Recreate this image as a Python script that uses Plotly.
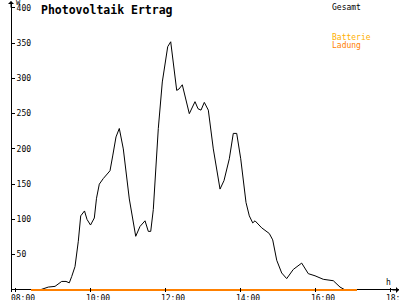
import plotly.graph_objects as go

# Gesamt (total) power in W, hours as decimal
gesamt_hours = [8.667, 8.888, 9.067, 9.245, 9.36, 9.448, 9.512, 9.6, 9.688, 9.752,
                9.853, 9.92, 10.013, 10.115, 10.173, 10.248, 10.355, 10.533, 10.605, 10.693,
                10.781, 10.888, 11.048, 11.219, 11.333, 11.467, 11.555, 11.619, 11.688, 11.733,
                11.821, 11.928, 12.072, 12.152, 12.312, 12.373, 12.461, 12.648, 12.8, 12.88,
                12.96, 13.048, 13.155, 13.288, 13.467, 13.573, 13.715, 13.821, 13.912, 14.019,
                14.16, 14.248, 14.339, 14.4, 14.579, 14.781, 14.872, 14.979, 15.112, 15.245,
                15.421, 15.645, 15.821, 16.0, 16.221, 16.488, 16.667, 16.8]
gesamt_values = [0, 4, 5, 12, 12, 10, 19, 33, 69, 105,
                 112, 100, 92, 102, 130, 150, 158, 169, 190, 217,
                 229, 200, 129, 76, 90, 98, 83, 83, 114, 157,
                 229, 295, 345, 352, 283, 285, 291, 250, 267, 257,
                 255, 266, 255, 200, 143, 155, 186, 222, 222, 186,
                 124, 105, 95, 98, 88, 80, 71, 42, 24, 16,
                 29, 38, 23, 20, 15, 13, 4, 0]

# Ladung (charging) series
ladung_hours = [8.427, 17.12]
ladung_values = [0, 0]

x_tick_vals = [8, 10, 12, 14, 16, 18]
x_tick_text = ["08:00", "10:00", "12:00", "14:00", "16:00", "18:00"]
y_tick_vals = [50, 100, 150, 200, 250, 300, 350, 400]
y_tick_text = ["50", "100", "150", "200", "250", "300", "350", "400"]

FONT = "DejaVu Sans Mono"

fig = go.Figure()
fig.add_trace(go.Scatter(x=gesamt_hours, y=gesamt_values, mode="lines",
                         line=dict(color="black", width=1), name="Gesamt",
                         showlegend=False))
fig.add_trace(go.Scatter(x=ladung_hours, y=ladung_values, mode="lines",
                         line=dict(color="#FF8000", width=2), name="Ladung",
                         showlegend=False))

# plot area: left 11, right 399, top 3, bottom 292; y=0 at pixel ~290
fig.update_layout(
    width=400, height=300,
    margin=dict(l=11, r=1, t=3, b=8, autoexpand=False),
    paper_bgcolor="white", plot_bgcolor="white",
    font=dict(family=FONT, size=8, color="black"),
    xaxis=dict(range=[7.893, 18.24], tickvals=x_tick_vals, ticktext=x_tick_text,
               showgrid=False, zeroline=False, showline=False, automargin=False,
               ticks="inside", ticklen=4, tickcolor="black",
               ticklabelstandoff=0, ticklabelshift=8, ticklabeloverflow="allow",
               tickfont=dict(family=FONT, size=8)),
    yaxis=dict(range=[-3, 407], tickvals=y_tick_vals, ticktext=y_tick_text,
               showgrid=False, zeroline=True, zerolinecolor="black", zerolinewidth=1,
               showline=True, linecolor="black", linewidth=1, automargin=False,
               side="right", anchor="free", position=0,
               ticks="outside", ticklen=3, tickcolor="black",
               ticklabeloverflow="allow",
               tickfont=dict(family=FONT, size=8)),
)

# convert pixel positions to paper coords
pw, ph = 388, 289
def px(xp):
    return (xp - 11) / pw
def py(yp):
    return (292 - yp) / ph

fig.add_annotation(text="<b>Photovoltaik Ertrag</b>", x=px(39), y=py(1), xref="paper", yref="paper",
                   xanchor="left", yanchor="top", showarrow=False,
                   font=dict(family=FONT, size=11.5, color="black"))
for txt, xp, yp, col, sz in [("Gesamt", 330, 1, "black", 8), ("Batterie", 330, 31, "#FFB000", 8),
                              ("Ladung", 330, 39, "#FF7F00", 8), ("W", 14, -3, "black", 7),
                              ("h", 384, 276, "black", 8)]:
    fig.add_annotation(text=txt, x=px(xp), y=py(yp), xref="paper", yref="paper",
                       xanchor="left", yanchor="top", showarrow=False,
                       font=dict(family=FONT, size=sz, color=col))

# axis arrows
fig.add_annotation(x=px(11), y=py(1), xref="paper", yref="paper", text="",
                   showarrow=True, ax=0, ay=8, arrowhead=1, arrowsize=1, arrowwidth=1,
                   arrowcolor="black")
fig.add_annotation(x=px(399), y=py(290), xref="paper", yref="paper", text="",
                   showarrow=True, ax=-8, ay=0, arrowhead=1, arrowsize=1, arrowwidth=1,
                   arrowcolor="black")

fig.write_html("out.html")
